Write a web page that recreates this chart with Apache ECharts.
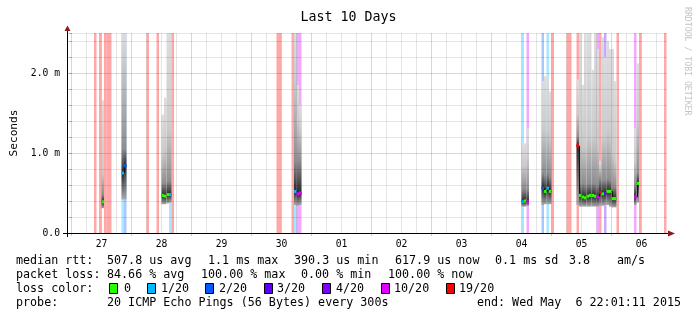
<!DOCTYPE html>
<html><head><meta charset="utf-8">
<script src="https://cdn.jsdelivr.net/npm/echarts@6/dist/echarts.min.js"></script>
<style>html,body{margin:0;padding:0;background:#fff}#c{width:697px;height:321px}</style>
</head><body><div id="c"></div>
<script>
// ---------------- data ----------------
const titleText = 'Last 10 Days';
const yAxisName = 'Seconds';
const dayLabels = ['27','28','29','30','01','02','03','04','05','06'];
const dayLabelHours = [12,36,60,84,108,132,156,180,204,228];
const midnightHours = [0,24,48,72,96,120,144,168,192,216];
const sixHourHours = [6,12,18,30,36,42,54,60,66,78,84,90,102,108,114,126,132,138,150,156,162,174,180,186,198,204,210,222,228,234];
const yTickValues = [0,1,2];
const yTickLabels = ['0.0','1.0 m','2.0 m'];
const yMajorLines = [1,2];
const yMinorLines = [0.2,0.4,0.6,0.8,1.2,1.4,1.6,1.8,2.2,2.4,2.5];

// hours since Apr 27 00:00 with packet loss (count out of 20)
const lossHours  = [9,11,13,14,15,20,21, 30,34,39,40, 82,83,88,89,90,91, 180,182, 188,190,192, 198,199,202,210,211,213,218, 225,227,237];
const lossCounts = [20,20,20,20,20,1,2, 20,20,1,20, 20,20,20,1,10,10, 1,10, 2,1,20, 20,20,19,10,19,3,20, 10,20,20];

// smoke: per hour min / median / upper-dark / upper-mid / max  (ms)
const smokeHours = [12,20,21, 36,37,38,39, 89,90,91, 180,181,182, 188,189,190,191, 202,203,204,205,206,207,208,209,210,211,212,213,214,215,216,217, 225,226];
const smokeMin = [0.31,0.42,0.42, 0.36,0.36,0.37,0.38, 0.35,0.34,0.35, 0.33,0.33,0.34, 0.35,0.36,0.36,0.36, 0.35,0.33,0.33,0.33,0.33,0.33,0.33,0.33,0.33,0.34,0.34,0.35,0.35,0.33,0.32,0.32, 0.35,0.38];
const smokeMed = [0.39,0.75,0.84, 0.47,0.46,0.48,0.48, 0.52,0.49,0.50, 0.39,0.40,0.39, 0.56,0.52,0.56,0.52, 1.09,0.47,0.45,0.44,0.46,0.47,0.47,0.46,0.45,0.51,0.49,0.50,0.52,0.52,0.43,0.43, 0.45,0.62];
const smokeQ   = [0.48,1.05,1.05, 0.62,0.62,0.65,0.65, 0.90,0.90,0.90, 0.55,0.55,0.55, 0.75,0.72,0.75,0.70, 1.20,0.62,0.62,0.60,0.62,0.62,0.62,0.62,0.60,0.68,0.66,0.66,0.68,0.66,0.58,0.58, 0.60,0.75];
const smokeHi  = [0.75,2.15,2.15, 1.00,1.05,1.30,1.30, 1.90,1.40,1.30, 0.85,0.85,0.95, 1.30,1.30,1.30,1.20, 1.50,1.15,1.10,1.10,1.20,1.20,1.20,1.20,1.10,0.82,1.20,1.20,1.30,1.20,1.00,0.90, 0.90,1.40];
const smokeMax = [1.66,2.50,2.50, 1.48,1.69,2.50,2.50, 2.50,1.85,1.60, 1.12,1.12,1.31, 1.90,1.96,1.96,1.77, 1.92,2.50,1.85,2.50,2.50,2.50,2.04,2.50,2.30,0.90,2.45,2.20,2.40,2.30,2.30,1.90, 1.31,2.12];

const lossLevels = [0,1,2,3,4,10,19];
const lossLegendLabels = ['0','1/20','2/20','3/20','4/20','10/20','19/20'];
const lossColors = ['#26ff00','#00b8ff','#0059ff','#5e00ff','#7e00ff','#dd00ff','#ff0000'];

const statLine1 = ['median rtt:','507.8 us avg','1.1 ms max','390.3 us min','617.9 us now','0.1 ms sd','3.8','am/s'];
const statLine2 = ['packet loss:','84.66 % avg','100.00 % max','0.00 % min','100.00 % now'];
const legendLead = 'loss color:';
const probeLabel = 'probe:';
const probeText = '20 ICMP Echo Pings (56 Bytes) every 300s';
const endText = 'end: Wed May  6 22:01:11 2015';
const sideText = 'RRDTOOL / TOBI OETIKER';

// ---------------- layout ----------------
const X_MIN = -1.8, X_MAX = 238.2, Y_MAX = 2.5;
const GL = 67, GT = 33, GR = 697 - 667, GB = 321 - 233;
const FONT = '"DejaVu Sans Mono", "Liberation Mono", monospace';
const line1X = [16,107,208,294,395,495,569,617];
const line2X = [16,107,201,301,388];
const boxX = [109,147,205,264,322,381,446];
const boxTextX = [124,161,219,277,336,394,459];
const rowY = [261,275,289,303];

function hexA(hex, a){const r=parseInt(hex.slice(1,3),16),g=parseInt(hex.slice(3,5),16),b=parseInt(hex.slice(5,7),16);return `rgba(${r},${g},${b},${a})`;}
function lossIdx(c){for(let i=0;i<lossLevels.length;i++) if(c<=lossLevels[i]) return i; return lossLevels.length-1;}
const lossMap = {}; lossHours.forEach((h,i)=>{lossMap[h]=lossCounts[i];});

const lossData = lossHours.map((h,i)=>[h,lossCounts[i]]);
const smokeData = smokeHours.map((h,i)=>[h,smokeMin[i],smokeMed[i],smokeQ[i],smokeHi[i],smokeMax[i]]);
const medData = smokeHours.map((h,i)=>[h,smokeMed[i],(i>0&&smokeHours[i-1]===h-1)?smokeMed[i-1]:NaN,lossMap[h]||0]);

const chart = echarts.init(document.getElementById('c'), null, {renderer:'canvas'});

const graphics = [];
function txt(x,y,t,opt){graphics.push(Object.assign({type:'text',x:x,y:y,silent:true,style:{text:t,font:'11.7px '+FONT,fill:'#000',align:'left',verticalAlign:'middle'}},opt||{}));}
statLine1.forEach((t,i)=>txt(line1X[i],rowY[0],t));
statLine2.forEach((t,i)=>txt(line2X[i],rowY[1],t));
txt(16,rowY[2],legendLead);
lossLegendLabels.forEach((t,i)=>{
  graphics.push({type:'rect',silent:true,shape:{x:boxX[i]+0.5,y:rowY[2]-5.5,width:8,height:10},style:{fill:lossColors[i],stroke:'#000',lineWidth:1}});
  txt(boxTextX[i],rowY[2],t);
});
txt(16,rowY[3],probeLabel);
txt(107,rowY[3],probeText);
graphics.push({type:'text',x:681,y:rowY[3],silent:true,style:{text:endText,font:'11.7px '+FONT,fill:'#000',align:'right',verticalAlign:'middle'}});
graphics.push({type:'text',x:687,y:7,rotation:-Math.PI/2,silent:true,style:{text:sideText,font:'8.2px '+FONT,fill:'#c4c4c4',align:'left',verticalAlign:'middle'}});
// axis lines with arrows
graphics.push({type:'line',silent:true,z:50,shape:{x1:63,y1:233.5,x2:669,y2:233.5},style:{stroke:'#000',lineWidth:1}});
graphics.push({type:'line',silent:true,z:50,shape:{x1:67.5,y1:237,x2:67.5,y2:30},style:{stroke:'#000',lineWidth:1}});
graphics.push({type:'polygon',silent:true,z:51,shape:{points:[[668,230.5],[675,233.5],[668,236.5]]},style:{fill:'#8b1a1a'}});
graphics.push({type:'polygon',silent:true,z:51,shape:{points:[[64.5,31],[67.5,25.5],[70.5,31]]},style:{fill:'#8b1a1a'}});

const GRID_MINOR = 'rgba(0,0,0,0.10)';
const GRID_MAJOR = 'rgba(255,0,0,0.22)';

const option = {
  animation:false,
  backgroundColor:'#fff',
  title:{text:titleText,left:'center',top:6,textStyle:{fontFamily:FONT,fontSize:13.3,fontWeight:'normal',color:'#000'}},
  grid:{left:GL,right:GR,top:GT,bottom:GB},
  xAxis:{type:'value',min:X_MIN,max:X_MAX,
    axisLine:{show:false},
    splitLine:{show:false},
    axisTick:{show:true,customValues:midnightHours,length:3,lineStyle:{color:'rgba(255,0,0,0.3)'}},
    axisLabel:{customValues:dayLabelHours,formatter:v=>{const k=dayLabelHours.indexOf(Math.round(v));return k>=0?dayLabels[k]:'';},fontFamily:FONT,fontSize:9.7,color:'#000',margin:6}
  },
  yAxis:{type:'value',min:0,max:Y_MAX,interval:0.2,
    name:yAxisName,nameLocation:'middle',nameGap:47,nameRotate:90,nameTextStyle:{fontFamily:FONT,fontSize:11.2,color:'#000'},
    axisLine:{show:false},
    axisTick:{show:true,length:2,lineStyle:{color:'#aaa'}},
    splitLine:{show:false},
    axisLabel:{formatter:v=>{for(let k=0;k<yTickValues.length;k++){if(Math.abs(v-yTickValues[k])<1e-6) return yTickLabels[k];}return '';},fontFamily:FONT,fontSize:9.7,color:'#000',margin:7}
  },
  graphic:graphics,
  series:[
    {type:'custom',name:'loss',z:3,silent:true,data:lossData,encode:{x:0,y:1},
      renderItem:(p,api)=>{const h=api.value(0);const a=api.coord([h,Y_MAX]);const b=api.coord([h+1,0]);
        return {type:'rect',shape:{x:a[0],y:a[1],width:b[0]-a[0],height:b[1]-a[1]},style:{fill:hexA(lossColors[lossIdx(api.value(1))],0.34)}};}},
    {type:'custom',name:'smoke',z:4,silent:true,data:smokeData,encode:{x:0,y:[1,5]},
      renderItem:(p,api)=>{const h=api.value(0),mn=api.value(1),md=api.value(2),q=api.value(3),hi=api.value(4),mx=Math.min(api.value(5),Y_MAX);
        const a=api.coord([h,mx]),b=api.coord([h+1,mn]);const H=b[1]-a[1];
        const f=v=>Math.max(0,Math.min(1,(api.coord([h,v])[1]-a[1])/H));
        const g=new echarts.graphic.LinearGradient(0,0,0,1,[
          {offset:0,color:'#dddddd'},{offset:f(hi),color:'#cbcbcb'},{offset:f(q),color:'#8e8e8e'},{offset:f(md),color:'#2a2a2a'},{offset:1,color:'#a8a8a8'}]);
        return {type:'rect',shape:{x:a[0],y:a[1],width:b[0]-a[0],height:H},style:{fill:g}};}},
    {type:'custom',name:'median',z:5,silent:true,data:medData,encode:{x:0,y:1},
      renderItem:(p,api)=>{const h=api.value(0),m=api.value(1),pm=api.value(2);
        const a=api.coord([h,m]),b=api.coord([h+1,m]);
        const ch=[{type:'line',shape:{x1:a[0],y1:a[1],x2:b[0],y2:b[1]},style:{stroke:'#111',lineWidth:1}}];
        if(!isNaN(pm)){const c=api.coord([h,pm]);ch.push({type:'line',shape:{x1:Math.round(a[0])+0.5,y1:c[1],x2:Math.round(a[0])+0.5,y2:a[1]},style:{stroke:'#111',lineWidth:1}});}
        ch.push({type:'rect',shape:{x:a[0],y:a[1]-1.5,width:b[0]-a[0],height:3},style:{fill:lossColors[lossIdx(api.value(3))]}});
        return {type:'group',children:ch};}},
    {type:'line',data:[],z:8,silent:true,
      markLine:{silent:true,symbol:'none',z:8,label:{show:false},animation:false,
        data:[].concat(
          yMinorLines.map(v=>({yAxis:v,lineStyle:{color:GRID_MINOR,width:1,type:'solid'}})),
          sixHourHours.map(h=>({xAxis:h,lineStyle:{color:GRID_MINOR,width:1,type:'solid'}})),
          midnightHours.map(h=>({xAxis:h,lineStyle:{color:GRID_MAJOR,width:1,type:'solid'}})),
          yMajorLines.map(v=>({yAxis:v,lineStyle:{color:GRID_MAJOR,width:1,type:'solid'}}))
        )}}
  ]
};
chart.setOption(option);
</script></body></html>
